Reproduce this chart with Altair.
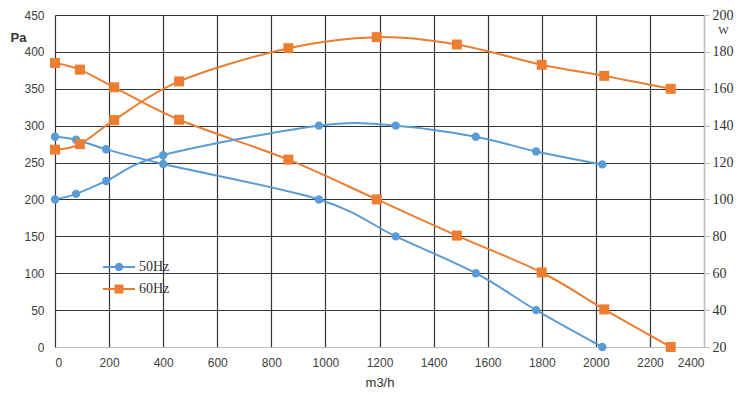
import altair as alt
import pandas as pd

# ---- data ----
series = ["50Hz", "60Hz"]
colors = ["#5B9BD5", "#ED7D31"]

flow_50 = [0, 78, 189, 400, 976, 1260, 1556, 1779, 2024]
pa_50 = [285, 281, 268, 248, 200, 150, 100, 50, 0]
w_50 = [100, 103, 110, 124, 140, 140, 134, 126, 119]

flow_60 = [0, 92, 219, 459, 863, 1190, 1486, 1800, 2031, 2277]
pa_60 = [385, 376, 352, 308, 254, 200, 151, 101, 51, 0]
w_60 = [127, 130, 143, 164, 182, 188, 184, 173, 167, 160]

x_ticks = list(range(0, 2401, 200))
pa_ticks = list(range(0, 451, 50))
w_ticks = list(range(20, 201, 20))

df = pd.concat([
    pd.DataFrame({"flow": flow_50, "pa": pa_50, "w": w_50, "series": "50Hz"}),
    pd.DataFrame({"flow": flow_60, "pa": pa_60, "w": w_60, "series": "60Hz"}),
])

GRID = "#333333"
LIGHT = "#bfbfbf"

x_enc = alt.X("flow:Q", scale=alt.Scale(domain=[0, 2400], nice=False),
              axis=alt.Axis(values=x_ticks, format="d", title="m3/h", grid=True, gridColor=GRID,
                            gridWidth=1.2, domainColor=LIGHT, ticks=False, labelPadding=10,
                            labelFont="Liberation Sans", labelFontSize=12, labelColor="#404040",
                            titleFont="Liberation Sans", titleFontSize=13, titleColor="#333333",
                            titleFontWeight="normal", titlePadding=8))

pa_scale = alt.Scale(domain=[0, 450], nice=False)
w_scale = alt.Scale(domain=[20, 200], nice=False)

pa_axis = alt.Axis(values=pa_ticks, format="d", title="Pa", grid=True, gridColor=GRID,
                   gridWidth=1.2, domain=False, ticks=False, labelPadding=11,
                   labelFont="Liberation Sans", labelFontSize=12, labelColor="#404040",
                   titleAngle=0, titleX=-37, titleY=22, titleAlign="center",
                   titleBaseline="middle", titleFont="Liberation Sans", titleFontSize=13,
                   titleFontWeight="bold", titleColor="#333333")
w_axis = alt.Axis(values=w_ticks, format="d", title="W", orient="right", grid=False,
                  domainColor=LIGHT, tickColor=LIGHT, tickSize=5, labelPadding=3,
                  labelFont="Liberation Serif", labelFontSize=14, labelColor="#333333",
                  titleAngle=0, titleX=19, titleY=15, titleAlign="center",
                  titleBaseline="middle", titleFont="Liberation Serif", titleFontSize=11,
                  titleFontWeight="normal", titleColor="#333333")

shapes = {"50Hz": "circle", "60Hz": "square"}
base = alt.Chart(df)


def curves(field, scale, axis):
    layers = []
    y = alt.Y(f"{field}:Q", scale=scale, axis=axis)
    for i, s in enumerate(series):
        sub = base.transform_filter(alt.datum.series == s)
        layers.append(sub.mark_line(color=colors[i], strokeWidth=2, interpolate="cardinal")
                      .encode(x=x_enc, y=y))
        layers.append(sub.mark_point(shape=shapes[s], filled=True, opacity=1,
                                     color=colors[i], size=70 if s == "50Hz" else 100)
                      .encode(x=x_enc, y=y))
    return layers


# legend symbols: short line with marker on it (custom SVG paths)
circ_path = "M-1.6,-0.09H1.6V0.09H-1.6Z M-0.42,0A0.42,0.42 0 1,1 0.42,0A0.42,0.42 0 1,1 -0.42,0Z"
sq_path = "M-1.6,-0.09H1.6V0.09H-1.6Z M-0.45,-0.45H0.45V0.45H-0.45Z"
legend = alt.Legend(title=None, orient="none", legendX=54, legendY=242, symbolSize=400,
                    symbolOpacity=1, symbolStrokeWidth=0, rowPadding=5, labelOffset=10,
                    labelFont="Liberation Serif", labelFontSize=14, labelColor="#333333")
legend_layer = base.mark_point(filled=True, opacity=0).encode(
    x=x_enc,
    y=alt.Y("pa:Q", scale=pa_scale, axis=pa_axis),
    color=alt.Color("series:N", scale=alt.Scale(domain=series, range=colors), legend=legend),
    shape=alt.Shape("series:N", scale=alt.Scale(domain=series, range=[circ_path, sq_path]),
                    legend=legend),
)

pressure = alt.layer(*curves("pa", pa_scale, pa_axis), legend_layer)
power = alt.layer(*curves("w", w_scale, w_axis))

chart = (alt.layer(pressure, power)
         .resolve_scale(y="independent")
         .properties(width=649, height=332, background="white",
                     autosize=alt.AutoSizeParams(type="none"),
                     padding={"left": 47, "top": 7, "right": 44, "bottom": 47})
         .configure_view(stroke=None))

chart.save("out.html", embed_options={"renderer": "svg", "actions": False})
